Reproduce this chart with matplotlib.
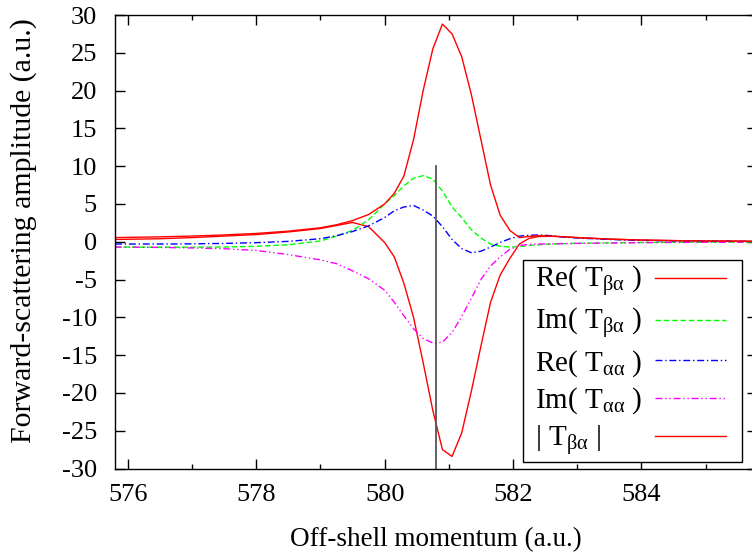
import matplotlib
matplotlib.use("Agg")
import matplotlib.pyplot as plt
from matplotlib.ticker import MultipleLocator
from matplotlib.offsetbox import DrawingArea

plt.rcParams["font.family"] = ["Liberation Serif", "DejaVu Serif"]
plt.rcParams["mathtext.fontset"] = "custom"
plt.rcParams["mathtext.rm"] = "Liberation Serif"
plt.rcParams["mathtext.it"] = "Liberation Serif:italic"
plt.rcParams["axes.unicode_minus"] = False

# Off-shell momentum grid (a.u.)
k = [575.8, 576.5, 577.0, 577.5, 578.0, 578.5, 579.0, 579.25, 579.5, 579.75,
     580.0, 580.15, 580.3, 580.45, 580.6, 580.75, 580.9, 581.05, 581.2, 581.35,
     581.5, 581.65, 581.8, 581.95, 582.1, 582.25, 582.4, 582.6, 582.8, 583.0,
     583.5, 584.0, 584.5, 585.0, 585.8]

re_t_ba = [0.3, 0.4, 0.55, 0.75, 0.95, 1.3, 1.75, 2.15, 2.55, 2.0,
           -0.1, -2.0, -5.5, -10.0, -16.0, -22.3, -27.5, -28.4, -25.3, -19.8,
           -13.8, -8.0, -4.4, -2.2, -0.3, 0.45, 0.7, 0.72, 0.65, 0.55,
           0.35, 0.22, 0.15, 0.1, 0.06]

im_t_ba = [-0.7, -0.72, -0.72, -0.7, -0.6, -0.4, 0.1, 0.75, 1.5, 2.9,
           5.0, 6.1, 7.4, 8.4, 8.75, 8.3, 6.7, 4.6, 3.2, 1.6,
           0.5, -0.3, -0.6, -0.7, -0.65, -0.5, -0.4, -0.3, -0.25, -0.2,
           -0.15, -0.1, -0.07, -0.05, -0.03]

re_t_aa = [-0.3, -0.3, -0.28, -0.22, -0.12, 0.05, 0.4, 0.8, 1.35, 2.1,
           3.2, 4.1, 4.6, 4.8, 4.2, 3.4, 2.0, 0.3, -0.9, -1.45,
           -1.25, -0.7, -0.1, 0.4, 0.75, 0.85, 0.9, 0.8, 0.6, 0.5,
           0.3, 0.18, 0.12, 0.08, 0.05]

im_t_aa = [-0.7, -0.75, -0.82, -0.92, -1.15, -1.7, -2.4, -2.9, -3.85, -4.9,
           -6.4, -8.0, -9.8, -11.5, -12.8, -13.4, -13.3, -12.0, -9.9, -7.5,
           -5.0, -3.2, -2.0, -1.0, -0.5, -0.35, -0.3, -0.28, -0.25, -0.22,
           -0.17, -0.12, -0.09, -0.07, -0.05]

abs_t_ba = [0.55, 0.65, 0.75, 0.9, 1.1, 1.4, 1.85, 2.25, 2.8, 3.6,
            5.0, 6.4, 8.7, 13.5, 20.0, 25.5, 28.8, 27.5, 24.5, 19.5,
            13.5, 7.5, 3.5, 1.5, 0.55, 0.7, 0.8, 0.75, 0.65, 0.55,
            0.35, 0.22, 0.15, 0.1, 0.06]

# on-shell momentum marker
k_on = 580.8
marker_range = [-30, 10]

labels = [r"Re( T$_{\mathrm{\beta\alpha}}$ )",
          r"Im( T$_{\mathrm{\beta\alpha}}$ )",
          r"Re( T$_{\mathrm{\alpha\alpha}}$ )",
          r"Im( T$_{\mathrm{\alpha\alpha}}$ )",
          r"| T$_{\mathrm{\beta\alpha}}$ |"]

fig = plt.figure(figsize=(7.52, 5.54), dpi=100)
ax = fig.add_axes([115 / 752, (554 - 468.5) / 554, 642 / 752, 453.5 / 554])

lw = 1.0
h1, = ax.plot(k, re_t_ba, color="#ff0000", lw=lw, label=labels[0])
h2, = ax.plot(k, im_t_ba, color="#00ff00", lw=lw, dashes=(4, 2), label=labels[1])
h3, = ax.plot(k, re_t_aa, color="#0000ff", lw=lw, dashes=(5, 2, 1, 2), label=labels[2])
h4, = ax.plot(k, im_t_aa, color="#ff00ff", lw=lw, dashes=(5, 2, 1, 2, 1, 2), label=labels[3])
h5, = ax.plot(k, abs_t_ba, color="#ff0000", lw=lw, label=labels[4])
ax.plot([k_on, k_on], marker_range, color="#555555", lw=1.3)

ax.set_xlim(575.8, 585.8)
ax.set_ylim(-30, 30)
ax.xaxis.set_major_locator(MultipleLocator(2))
ax.xaxis.set_minor_locator(MultipleLocator(1))
ax.yaxis.set_major_locator(MultipleLocator(5))

ax.tick_params(which="both", direction="in", top=True, right=True, width=1,
               labelsize=19, colors="black")
ax.tick_params(which="major", length=7)
ax.tick_params(which="minor", length=3.5)
ax.tick_params(axis="y", pad=13)
ax.tick_params(axis="x", pad=11)
for s in ax.spines.values():
    s.set_linewidth(1.0)

ax.set_xlabel("Off-shell momentum (a.u.)", fontsize=19.5, labelpad=15)
ax.set_ylabel("Forward-scattering amplitude (a.u.)", fontsize=21.5, labelpad=18)
ax.yaxis.label.set_y(0.525)

leg_fs = 21
leg = ax.legend(handles=[h1, h2, h3, h4, h5], loc="lower right",
                bbox_to_anchor=(742 / 752, (554 - 461.7) / 554),
                bbox_transform=fig.transFigure,
                markerfirst=False, fontsize=leg_fs, fancybox=False,
                framealpha=1, edgecolor="black", handlelength=2.45,
                handletextpad=0.4, labelspacing=0.24, borderpad=0.15,
                borderaxespad=0)
leg.get_frame().set_linewidth(1.0)

# left-align the label column, keep the line samples in one column,
# and widen the side margins of the box
fig.canvas.draw()
renderer = fig.canvas.get_renderer()
px_per_pt = fig.dpi / 72.0
widths = [t.get_window_extent(renderer).width for t in leg.get_texts()]
wmax = max(widths)
left_px, gap_px, right_px = 8.5, 12.0, 11.5
rows = leg._legend_handle_box.get_children()[0].get_children()
for row, w in zip(rows, widths):
    text_box, handle_box = row._children
    row.sep = 0
    row._children = [
        DrawingArea(left_px / px_per_pt, 0.1),
        text_box,
        DrawingArea((wmax - w + gap_px) / px_per_pt, 0.1),
        handle_box,
        DrawingArea(right_px / px_per_pt, 0.1),
    ]

fig.savefig("out.png", dpi=100)
